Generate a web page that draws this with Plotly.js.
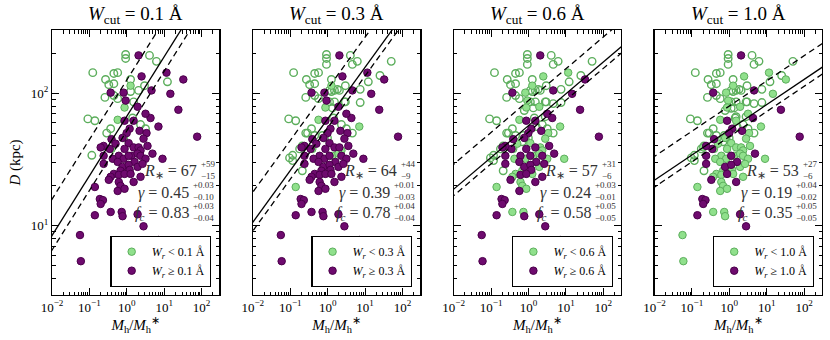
<!DOCTYPE html>
<html>
<head>
<meta charset="utf-8">
<script src="https://cdn.plot.ly/plotly-3.0.1.min.js"></script>
<style>
  html, body { margin: 0; padding: 0; background: #fff; }
  #plot { width: 830px; height: 340px; }
</style>
</head>
<body>
<div id="plot"></div>
<script>
// detections: halo mass ratio, impact parameter (kpc), equivalent width (A)
const detM = [2.06, 0.37, 4.57, 23.9, 4.3, 76, 0.87, 1.19, 2.19, 0.39, 0.35, 4.85,
  2.48, 11.5, 32.4, 14.6, 7.0, 3.16, 0.82, 0.93, 1.94, 1.52, 3.36, 0.99,
  0.77, 0.24, 0.20, 1.12, 1.52, 2.06, 2.33, 1.34, 1.94, 9.0, 0.61, 0.82,
  1.12, 1.61, 2.33, 3.16, 0.24, 0.24, 0.42, 0.57, 0.77, 1.12, 1.19, 0.68,
  1.94, 2.63, 0.45, 0.61, 0.87, 1.26, 0.37, 2.33, 0.33, 1.52, 0.61, 0.68,
  0.57, 0.87, 0.19, 0.23, 0.20, 0.14, 0.37, 0.73, 0.77, 1.94, 2.8, 0.056,
  3.8, 7.0, 0.059, 0.14, 0.57, 0.87, 1.26, 0.39, 0.50, 0.87, 2.8, 3.57];
const detD = [193, 101, 105, 75, 65, 47, 62, 54, 52, 45, 38, 35,
  134, 143, 127, 99, 56, 70, 101, 88, 79, 62, 50, 50,
  46, 40, 39, 42, 39, 39, 37, 33.7, 35, 32, 33.7, 32,
  33.7, 30.3, 33.7, 32, 33.7, 29.3, 32, 30.3, 27.8, 28.8, 26.4, 26,
  27.8, 29.3, 24.6, 24.2, 24.6, 24.6, 23.4, 23.4, 22.2, 21.4, 21.4, 20,
  18.3, 19, 15.9, 15.6, 14.6, 12.0, 12.7, 12.7, 11.8, 12.2, 9.9, 8.5,
  7.65, 7.8, 5.4, 19.6, 63, 78, 114, 38, 41.6, 38, 45.4, 40];
const detW = [1.45, 1.2, 1.6, 1.3, 1.1, 2.1, 1.25, 1.7, 1.15, 1.4, 1.9, 1.3,
  0.42, 0.51, 0.72, 0.88, 0.24, 0.66, 0.35, 0.47, 0.55, 0.81, 0.38, 1.05,
  0.74, 1.35, 0.9, 0.44, 0.69, 0.58, 0.19, 0.26, 0.22, 0.41, 0.77, 0.33,
  1.22, 1.08, 0.84, 0.49, 1.5, 1.18, 0.52, 0.71, 1.6, 1.28, 0.93, 0.37,
  0.45, 0.78, 0.56, 0.67, 1.12, 0.34, 0.48, 0.86, 1.44, 1.03, 0.4, 0.53,
  0.75, 0.31, 1.7, 1.26, 1.09, 1.33, 0.46, 0.39, 0.68, 1.21, 1.55, 0.79,
  0.43, 0.82, 0.73, 0.17, 0.07, 0.06, 0.08, 0.05, 0.36, 0.83, 0.5, 0.7];

// non-detections: upper limits on the equivalent width
const limM = [0.93, 0.93, 4.04, 6.2, 0.123, 0.45, 0.57, 0.27, 0.33, 0.45, 1.26, 12.2,
  2.97, 1.26, 2.06, 0.26, 0.45, 0.57, 1.52, 0.091, 0.14, 1.43, 0.29, 0.37,
  2.33, 3.16, 0.82, 0.116,
  0.93, 4.57, 50, 25, 7.4, 1.82, 7.4, 1.12, 2.97, 4.57, 0.26, 0.73,
  0.99, 0.21, 0.178, 0.096, 0.116, 0.21, 1.34, 0.45, 1.12, 1.52, 2.8,
  4.57, 2.8, 1.61, 0.77, 0.68, 1.12, 1.52];
const limD = [196, 183, 193, 174, 143, 141, 143, 127, 116, 118, 127, 122,
  114, 103, 105, 93, 96, 91, 86, 64, 62, 65, 50, 54,
  58, 54, 46, 34,
  165, 165, 174, 136, 107, 107, 85, 86, 86, 50, 50, 48,
  46, 40, 38, 32.5, 31, 26, 77.5, 48, 105, 105, 86,
  83.5, 66.5, 56, 74, 43, 77, 66.5];
const limW = [0.06, 0.08, 0.05, 0.07, 0.09, 0.06, 0.08, 0.07, 0.05, 0.09, 0.06, 0.08,
  0.07, 0.05, 0.09, 0.06, 0.08, 0.07, 0.06, 0.09, 0.05, 0.07, 0.08, 0.06,
  0.09, 0.07, 0.08, 0.06,
  0.18, 0.22, 0.15, 0.27, 0.2, 0.13, 0.24, 0.17, 0.21, 0.26, 0.14, 0.19,
  0.23, 0.16, 0.25, 0.12, 0.21, 0.18, 0.27, 0.15, 0.2, 0.23, 0.17,
  0.42, 0.38, 0.51, 0.46, 0.55, 0.74, 0.85];

// fit results per cut
const cuts = [0.1, 0.3, 0.6, 1.0];
const rStar = [67, 64, 57, 53];
const rUp = [59, 44, 31, 27];
const rLo = [15, 9, 6, 6];
const gam = [0.45, 0.39, 0.24, 0.19];
const gamUp = ['0.03', '0.01', '0.03', '0.04'];
const gamLo = ['0.10', '0.03', '0.01', '0.02'];
const fc = [0.83, 0.78, 0.58, 0.35];
const fcUp = ['0.03', '0.04', '0.05', '0.05'];
const fcLo = ['0.04', '0.04', '0.05', '0.05'];

const xTicks = [0.01, 0.1, 1, 10, 100];
const xTickText = ['10<sup>−2</sup>', '10<sup>−1</sup>', '10<sup>0</sup>', '10<sup>1</sup>', '10<sup>2</sup>'];
const yTicks = [10, 100];
const yTickText = ['10<sup>1</sup>', '10<sup>2</sup>'];

const FONT = '"Liberation Serif", serif';
const GREEN = '#90e08c', GREEN_EDGE = '#5cae5c', PURPLE = '#6e0a6e', PURPLE_EDGE = '#4b004b';

const minorX = [], minorY = [];
for (let e = -2; e <= 2; e++) for (let k = 2; k <= 9; k++) minorX.push(k * Math.pow(10, e));
for (let e = 0; e <= 2; e++) for (let k = 2; k <= 9; k++) minorY.push(k * Math.pow(10, e));

const lineX = [0.005, 600];
const domains = [[0, 0.2175], [0.2608, 0.4784], [0.5217, 0.7392], [0.7825, 1.0]];

const data = [];
const layout = {
  width: 830, height: 340,
  margin: {l: 52, r: 8, t: 30, b: 45},
  paper_bgcolor: '#fff', plot_bgcolor: '#fff',
  font: {family: FONT, size: 13, color: '#000'},
  annotations: [],
  showlegend: true
};

cuts.forEach((cut, i) => {
  const n = i === 0 ? '' : String(i + 1);
  const xa = 'x' + n, ya = 'y' + n;
  const leg = 'legend' + n;
  const cutTxt = cut.toFixed(1);

  // upper limits below the cut
  const li = limW.map((w, k) => k).filter(k => limW[k] < cut);
  data.push({
    x: li.map(k => limM[k]), y: li.map(k => limD[k]),
    xaxis: xa, yaxis: ya, mode: 'markers', showlegend: false,
    marker: {size: 7.5, color: 'rgba(0,0,0,0)', line: {color: GREEN_EDGE, width: 1.4}}
  });

  const lo = detW.map((w, k) => k).filter(k => detW[k] < cut);
  const hi = detW.map((w, k) => k).filter(k => detW[k] >= cut);
  data.push({
    x: lo.map(k => detM[k]), y: lo.map(k => detD[k]),
    xaxis: xa, yaxis: ya, mode: 'markers', legend: leg,
    name: '<i>W</i><sub><i>r</i></sub> &lt; ' + cutTxt + ' Å',
    marker: {size: 7.5, color: GREEN, line: {color: GREEN_EDGE, width: 1}}
  });
  data.push({
    x: hi.map(k => detM[k]), y: hi.map(k => detD[k]),
    xaxis: xa, yaxis: ya, mode: 'markers', legend: leg,
    name: '<i>W</i><sub><i>r</i></sub> ≥ ' + cutTxt + ' Å',
    marker: {size: 7.5, color: PURPLE, line: {color: PURPLE_EDGE, width: 1}}
  });

  // model lines
  [[rStar[i], 'solid'], [rStar[i] + rUp[i], '6px,4px'], [rStar[i] - rLo[i], '6px,4px']].forEach(([r, dash]) => {
    data.push({
      x: lineX, y: lineX.map(m => r * Math.pow(m, gam[i])),
      xaxis: xa, yaxis: ya, mode: 'lines', showlegend: false, hoverinfo: 'skip',
      line: {color: '#000', width: 1.3, dash: dash}
    });
  });

  layout['xaxis' + n] = {
    type: 'log', range: [-2, Math.log10(300)], domain: domains[i], anchor: ya,
    tickmode: 'array', tickvals: xTicks, ticktext: xTickText,
    ticks: 'inside', ticklen: 7, tickwidth: 1, tickcolor: '#000',
    minor: {tickmode: 'array', tickvals: minorX, ticks: 'inside', ticklen: 3.5, tickcolor: '#000', showgrid: false},
    showline: true, linecolor: '#000', linewidth: 1.2, mirror: 'ticks',
    showgrid: false, zeroline: false,
    tickfont: {family: FONT, size: 13},
    title: {text: '<i>M</i><sub>h</sub>/<i>M</i><sub>h</sub><sup>∗</sup>', font: {family: FONT, size: 15}, standoff: 2}
  };
  layout['yaxis' + n] = {
    type: 'log', range: [Math.log10(3), Math.log10(300)], domain: [0, 1], anchor: xa,
    tickmode: 'array', tickvals: yTicks, ticktext: yTickText, showticklabels: i === 0,
    ticks: 'inside', ticklen: 7, tickwidth: 1, tickcolor: '#000',
    minor: {tickmode: 'array', tickvals: minorY, ticks: 'inside', ticklen: 3.5, tickcolor: '#000', showgrid: false},
    showline: true, linecolor: '#000', linewidth: 1.2, mirror: 'ticks',
    showgrid: false, zeroline: false,
    tickfont: {family: FONT, size: 13},
    title: i === 0 ? {text: '<i>D</i> (kpc)', font: {family: FONT, size: 15}, standoff: 6} : {text: ''}
  };
  layout[leg] = {
    x: domains[i][1] - 8 / 770, xanchor: 'right', y: 8 / 265, yanchor: 'bottom',
    bgcolor: '#fff', bordercolor: '#000', borderwidth: 1.2,
    font: {family: FONT, size: 12}, itemwidth: 30, tracegroupgap: 0
  };

  // panel title
  layout.annotations.push({
    xref: 'paper', yref: 'paper', x: (domains[i][0] + domains[i][1]) / 2, y: 1,
    xanchor: 'center', yanchor: 'bottom', yshift: 1, showarrow: false,
    text: '<i>W</i><sub>cut</sub> = ' + cutTxt + ' Å', font: {family: FONT, size: 19}
  });

  // fit summary text
  const xd = xa + ' domain', yd = ya + ' domain';
  const rows = [
    {main: '<i>R</i><sub>∗</sub> = ' + rStar[i], up: '+' + rUp[i], lo: '−' + rLo[i], xs: 0.875, y: 0.466},
    {main: '<i>γ</i> = ' + gam[i].toFixed(2), up: '+' + gamUp[i], lo: '−' + gamLo[i], xs: 0.83, y: 0.386},
    {main: '<i>f</i><sub><i>c</i></sub> = ' + fc[i].toFixed(2), up: '+' + fcUp[i], lo: '−' + fcLo[i], xs: 0.83, y: 0.306}
  ];
  rows.forEach(r => {
    layout.annotations.push({xref: xd, yref: yd, x: r.xs, y: r.y, xanchor: 'right', yanchor: 'middle',
      showarrow: false, text: r.main, font: {family: FONT, size: 16, color: '#333'}});
    layout.annotations.push({xref: xd, yref: yd, x: r.xs, y: r.y + 0.03, xanchor: 'left', yanchor: 'middle',
      showarrow: false, text: r.up, font: {family: FONT, size: 9, color: '#333'}});
    layout.annotations.push({xref: xd, yref: yd, x: r.xs, y: r.y - 0.016, xanchor: 'left', yanchor: 'middle',
      showarrow: false, text: r.lo, font: {family: FONT, size: 9, color: '#333'}});
  });
});

Plotly.newPlot('plot', data, layout, {displayModeBar: false, staticPlot: true});
</script>
</body>
</html>
